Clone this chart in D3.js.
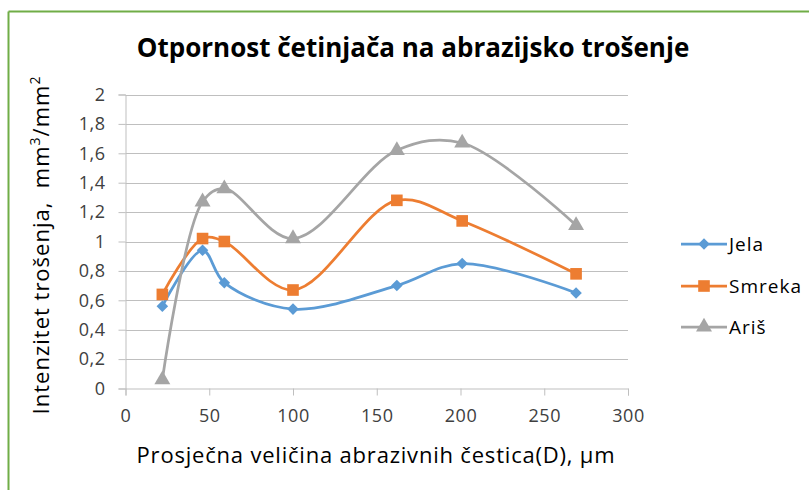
<!DOCTYPE html>
<html>
<head>
<meta charset="utf-8">
<script src="https://cdn.jsdelivr.net/npm/d3@7"></script>
<style>
  html, body { margin: 0; padding: 0; background: #fff; }
  svg { display: block; }
  text { font-family: "Open Sans", Lato, "Liberation Sans", sans-serif; }
</style>
</head>
<body>
<svg id="chart" width="809" height="490"></svg>
<script>
// Average abrasive particle size (µm)
const particleSize = [22, 46, 59, 100, 162, 201, 269];

// Wear intensity per species (mm³/mm²)
const jela   = [0.56, 0.94, 0.72, 0.54, 0.70, 0.85, 0.65];
const smreka = [0.64, 1.02, 1.00, 0.67, 1.28, 1.14, 0.78];
const aris   = [0.06, 1.27, 1.36, 1.02, 1.62, 1.67, 1.11];

const seriesNames = ["Jela", "Smreka", "Ariš"];
const xTicks = [0, 50, 100, 150, 200, 250, 300];
const yTicks = [0, 0.2, 0.4, 0.6, 0.8, 1, 1.2, 1.4, 1.6, 1.8, 2];

const titleText = "Otpornost četinjača na abrazijsko trošenje";
const xLabel = "Prosječna veličina abrazivnih čestica(D), µm";

const colors = ["#5b9bd5", "#ed7d31", "#a5a5a5"];
const symbols = [d3.symbolDiamond2, d3.symbolSquare, d3.symbolTriangle];
const symbolSizes = [85, 135, 110];

const svg = d3.select("#chart");

// chart frame (green outline)
svg.append("line").attr("x1", 8.5).attr("y1", 11.5).attr("x2", 809).attr("y2", 11.5)
  .attr("stroke", "#70ad47").attr("stroke-width", 2);
svg.append("line").attr("x1", 8.5).attr("y1", 11.5).attr("x2", 8.5).attr("y2", 490)
  .attr("stroke", "#70ad47").attr("stroke-width", 2);

const plot = { left: 125.5, right: 628, top: 94.5, bottom: 388.5 };

const x = d3.scaleLinear().domain([0, 300]).range([plot.left, plot.right]);
const y = d3.scaleLinear().domain([0, 2]).range([plot.bottom, plot.top]);

const fmt = v => String(v).replace(".", ",");

// horizontal gridlines
svg.append("g").selectAll("line").data(yTicks.slice(1)).join("line")
  .attr("x1", plot.left).attr("x2", plot.right)
  .attr("y1", d => Math.round(y(d)) + 0.5).attr("y2", d => Math.round(y(d)) + 0.5)
  .attr("stroke", "#bfbfbf").attr("stroke-width", 1);

// y axis
const yAxis = svg.append("g")
  .attr("transform", `translate(${plot.left},0)`)
  .call(d3.axisLeft(y).tickValues(yTicks).tickFormat(fmt).tickSize(7).tickPadding(13));
yAxis.select(".domain").attr("stroke", "#bfbfbf");
yAxis.selectAll(".tick line").attr("stroke", "#bfbfbf");
yAxis.selectAll(".tick text").attr("fill", "#404040").style("font-size", "18px")
  .style("letter-spacing", "0.5px")
  .style("font-family", "'Open Sans', Lato, sans-serif");

// x axis
const xAxis = svg.append("g")
  .attr("transform", `translate(0,${plot.bottom})`)
  .call(d3.axisBottom(x).tickValues(xTicks).tickSize(7).tickPadding(14));
xAxis.select(".domain").attr("stroke", "#bfbfbf");
xAxis.selectAll(".tick line").attr("stroke", "#bfbfbf");
xAxis.selectAll(".tick text").attr("fill", "#404040").style("font-size", "18px")
  .style("letter-spacing", "0.5px")
  .style("font-family", "'Open Sans', Lato, sans-serif");

// series lines and markers
const allSeries = [jela, smreka, aris];
const line = d3.line()
  .x((d, i) => x(particleSize[i]))
  .y(d => y(d))
  .curve(d3.curveCatmullRom.alpha(0.5));

allSeries.forEach((vals, s) => {
  const g = svg.append("g");
  g.append("path").datum(vals)
    .attr("d", line)
    .attr("fill", "none")
    .attr("stroke", colors[s])
    .attr("stroke-width", 2.75)
    .attr("stroke-linejoin", "round")
    .attr("stroke-linecap", "round");
  g.selectAll("path.m").data(vals).join("path")
    .attr("class", "m")
    .attr("transform", (d, i) => `translate(${x(particleSize[i])},${y(d)})`)
    .attr("d", d3.symbol(symbols[s], symbolSizes[s]))
    .attr("fill", colors[s]);
});

// title
svg.append("text")
  .attr("x", 413).attr("y", 57)
  .attr("text-anchor", "middle")
  .style("font-size", "26px").style("font-weight", "bold")
  .attr("fill", "#000")
  .text(titleText);

// x axis title
svg.append("text")
  .attr("x", 376).attr("y", 463)
  .attr("text-anchor", "middle")
  .style("font-size", "22px")
  .style("letter-spacing", "0.8px")
  .attr("fill", "#000")
  .text(xLabel);

// y axis title with superscripts
const yt = svg.append("text")
  .attr("transform", "translate(49,245) rotate(-90)")
  .attr("text-anchor", "middle")
  .style("font-size", "22px")
  .style("letter-spacing", "1px")
  .style("white-space", "pre")
  .attr("fill", "#000");
yt.append("tspan").text("Intenzitet trošenja,  mm");
yt.append("tspan").attr("dy", -9).style("font-size", "14px").text("3");
yt.append("tspan").attr("dy", 9).text("/mm");
yt.append("tspan").attr("dy", -9).style("font-size", "14px").text("2");

// legend
const legendY = [244, 286, 327];
seriesNames.forEach((name, s) => {
  const g = svg.append("g").attr("transform", `translate(681,${legendY[s]})`);
  g.append("line").attr("x1", 0).attr("x2", 46).attr("y1", 0).attr("y2", 0)
    .attr("stroke", colors[s]).attr("stroke-width", 2.75);
  g.append("path").attr("transform", "translate(23,0)")
    .attr("d", d3.symbol(symbols[s], symbolSizes[s]))
    .attr("fill", colors[s]);
  g.append("text").attr("x", 48).attr("y", 7)
    .style("font-size", "19px")
    .style("letter-spacing", "1px")
    .attr("fill", "#000")
    .text(name);
});
</script>
</body>
</html>
